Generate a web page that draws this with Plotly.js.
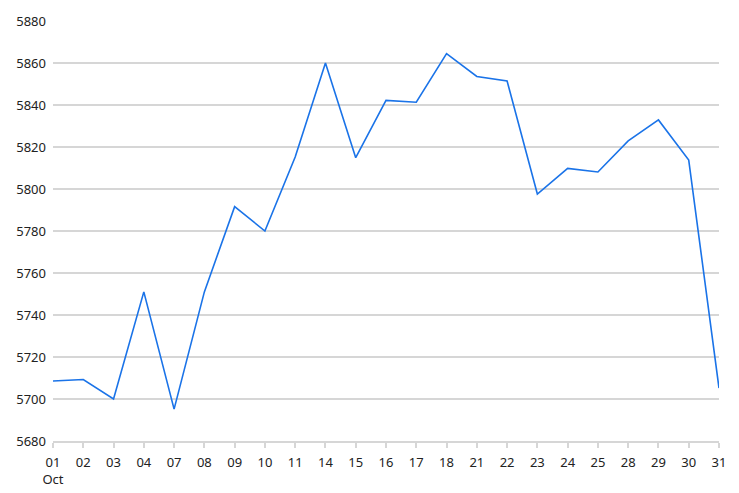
<!DOCTYPE html>
<html>
<head>
<meta charset="utf-8">
<script src="https://cdn.plot.ly/plotly-3.0.1.min.js"></script>
<style>
  html, body { margin: 0; padding: 0; background: #fff; }
  #chart { width: 739px; height: 493px; }
</style>
</head>
<body>
<div id="chart"></div>
<script>
// trading days in October
const days = ['01', '02', '03', '04', '07', '08', '09', '10', '11', '14', '15', '16',
              '17', '18', '21', '22', '23', '24', '25', '28', '29', '30', '31'];
const closes = [5708.6, 5709.3, 5700.0, 5751.0, 5695.2, 5751.0, 5791.6, 5780.0, 5815.2, 5860.0, 5814.9, 5842.2,
                5841.3, 5864.5, 5853.6, 5851.4, 5797.6, 5809.8, 5808.1, 5822.9, 5832.9, 5813.8, 5705.2];
const tickLabels = days.map((d, i) => i === 0 ? d + '<br>Oct' : d);
const yTicks = [5680, 5700, 5720, 5740, 5760, 5780, 5800, 5820, 5840, 5860, 5880];

Plotly.newPlot('chart', [{
    x: days,
    y: closes,
    type: 'scatter',
    mode: 'lines',
    line: { color: '#1a73e8', width: 1.6 },
    hoverinfo: 'x+y'
}], {
    width: 739,
    height: 493,
    margin: { l: 53, r: 20, t: 21, b: 52 },
    paper_bgcolor: '#fff',
    plot_bgcolor: '#fff',
    showlegend: false,
    font: { family: 'Noto Sans, Open Sans, sans-serif', size: 13, color: '#222' },
    xaxis: {
        type: 'category',
        range: [0, days.length - 1],
        tickmode: 'array',
        tickvals: days,
        ticktext: tickLabels,
        showgrid: false,
        showline: true,
        linecolor: '#d6d6d6',
        linewidth: 1.5,
        ticks: 'outside',
        ticklen: 5,
        tickcolor: '#d6d6d6',
        tickwidth: 1.5,
        ticklabelstandoff: 4,
        zeroline: false
    },
    yaxis: {
        range: [5680, 5880],
        tickmode: 'array',
        tickvals: yTicks,
        showgrid: true,
        gridcolor: '#d6d6d6',
        gridwidth: 1.5,
        zeroline: false,
        ticks: '',
        ticklabelstandoff: 6
    }
}, { displayModeBar: false });
</script>
</body>
</html>
